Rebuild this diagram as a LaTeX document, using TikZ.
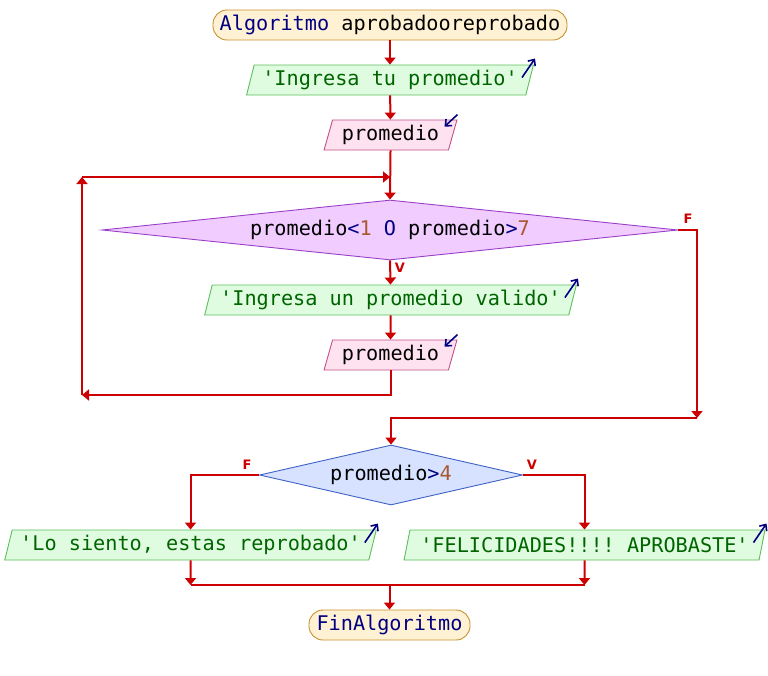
\documentclass[tikz,border=0pt]{standalone}
\usepackage{fontspec}
\setmonofont{DejaVu Sans Mono}
\setsansfont{DejaVu Sans}
\usetikzlibrary{shapes.geometric,arrows.meta,calc}
\definecolor{flowred}{HTML}{CC0000}
\definecolor{kwblue}{HTML}{000080}
\definecolor{numbrown}{HTML}{A8582E}
\definecolor{strgreen}{HTML}{006400}
\definecolor{termfill}{HTML}{FFF2D4}
\definecolor{termdraw}{HTML}{C8902E}
\definecolor{infill}{HTML}{E0FCE0}
\definecolor{indraw}{HTML}{5CBE5C}
\definecolor{outfill}{HTML}{FFE2F0}
\definecolor{outdraw}{HTML}{C05088}
\definecolor{ifafill}{HTML}{F0CCFF}
\definecolor{ifadraw}{HTML}{9B3FC8}
\definecolor{ifbfill}{HTML}{D6E2FF}
\definecolor{ifbdraw}{HTML}{4062C4}
\tikzset{
  base/.style={font=\ttfamily\fontsize{20.2}{24}\selectfont, inner sep=0pt, line width=0.9pt},
  terminal/.style={base, rectangle, rounded corners=14pt, minimum height=30pt,
    fill=termfill, draw=termdraw, text=kwblue},
  readbox/.style={base, trapezium, trapezium left angle=70, trapezium right angle=110,
    trapezium stretches=true, minimum height=30pt, fill=infill, draw=indraw, text=strgreen},
  writebox/.style={base, trapezium, trapezium left angle=70, trapezium right angle=110,
    trapezium stretches=true, minimum height=30pt, fill=outfill, draw=outdraw, text=black},
  decision/.style={base, diamond, minimum height=60pt},
  flow/.style={draw=flowred, line width=2pt, -{Triangle[width=11pt,length=7pt]}},
  flowline/.style={draw=flowred, line width=2pt},
  tag/.style={text=flowred, font=\sffamily\bfseries\fontsize{13}{14}\selectfont, inner sep=0pt},
  iomark/.style={draw=kwblue, line width=1.6pt, -{Straight Barb[length=5pt,width=9pt]}},
}
\newcommand{\kw}[1]{\textcolor{kwblue}{#1}}
\newcommand{\nm}[1]{\textcolor{numbrown}{#1}}
\begin{document}
\begin{tikzpicture}[x=1pt,y=-1pt]
\useasboundingbox (0,0) rectangle (768,675);

% process steps
\node[terminal, minimum width=354pt] (start) at (390,25)
  {Algoritmo \textcolor{black}{aprobadooreprobado}};
\node[readbox, minimum width=288pt] (ask1) at (390,80) {'Ingresa tu promedio'};
\node[writebox, minimum width=133pt] (read1) at (390.5,135) {promedio};
\node[decision, minimum width=576pt, aspect=9.6, fill=ifafill, draw=ifadraw] (check) at (390,230)
  {promedio\kw{<}\nm{1} \kw{O} promedio\kw{>}\nm{7}};
\node[readbox, minimum width=373pt] (ask2) at (390.5,300) {'Ingresa un promedio valido'};
\node[writebox, minimum width=133pt] (read2) at (390.5,355) {promedio};
\node[decision, minimum width=263pt, aspect=4.38, fill=ifbfill, draw=ifbdraw] (pass) at (391,475)
  {promedio\kw{>}\nm{4}};
\node[readbox, minimum width=373pt] (fail) at (190.5,545) {'Lo siento, estas reprobado'};
\node[readbox, minimum width=361pt] (ok) at (584.5,545) {'FELICIDADES!!!! APROBASTE'};
\node[terminal, minimum width=161pt] (finish) at (389.5,625) {FinAlgoritmo};

% input/output marks
\draw[iomark] ($(ask1.top right corner)+(-12,13)$) -- ($(ask1.top right corner)+(1,-6)$);
\draw[iomark] ($(ask2.top right corner)+(-12,13)$) -- ($(ask2.top right corner)+(1,-6)$);
\draw[iomark] ($(fail.top right corner)+(-12,13)$) -- ($(fail.top right corner)+(1,-6)$);
\draw[iomark] ($(ok.top right corner)+(-12,13)$) -- ($(ok.top right corner)+(1,-6)$);
\draw[iomark] ($(read1.top right corner)+(0,-5)$) -- ($(read1.top right corner)+(-13,7)$);
\draw[iomark] ($(read2.top right corner)+(0,-5)$) -- ($(read2.top right corner)+(-13,7)$);

% junction points
\coordinate (loopB) at (82,395);
\coordinate (loopT) at (82,177);
\coordinate (loopJ) at (390,177);
\coordinate (exitR) at (697,418);
\coordinate (mergeL) at (190.5,585);
\coordinate (mergeR) at (584.5,585);

% connectors
\draw[flow] (start) -- (ask1);
\draw[flow] (ask1) -- (read1);
\draw[flow] (read1.south) -- (check.north);
\draw[flow] (check.south) -- (ask2.north);
\draw[flow] (ask2) -- (read2);
\draw[flow] (read2.south) |- (loopB);
\draw[flow] (loopB) -- (loopT);
\draw[flow] (loopT) -- (loopJ);
\draw[flow] (check.east) -| (exitR);
\draw[flow] (exitR) -| (pass.north);
\draw[flow] (pass.west) -| (fail.north);
\draw[flow] (pass.east) -| (ok.north);
\draw[flow] (fail.south) -- (mergeL);
\draw[flow] (ok.south) -- (mergeR);
\draw[flowline] (mergeL) -- (mergeR);
\draw[flow] (finish.north |- mergeL) -- (finish.north);

% branch labels
\node[tag] (fa) at (688,219) {F};
\node[tag] (va) at (400,268) {V};
\node[tag] (fb) at (247,465) {F};
\node[tag] (vb) at (532,465) {V};
\end{tikzpicture}
\end{document}
